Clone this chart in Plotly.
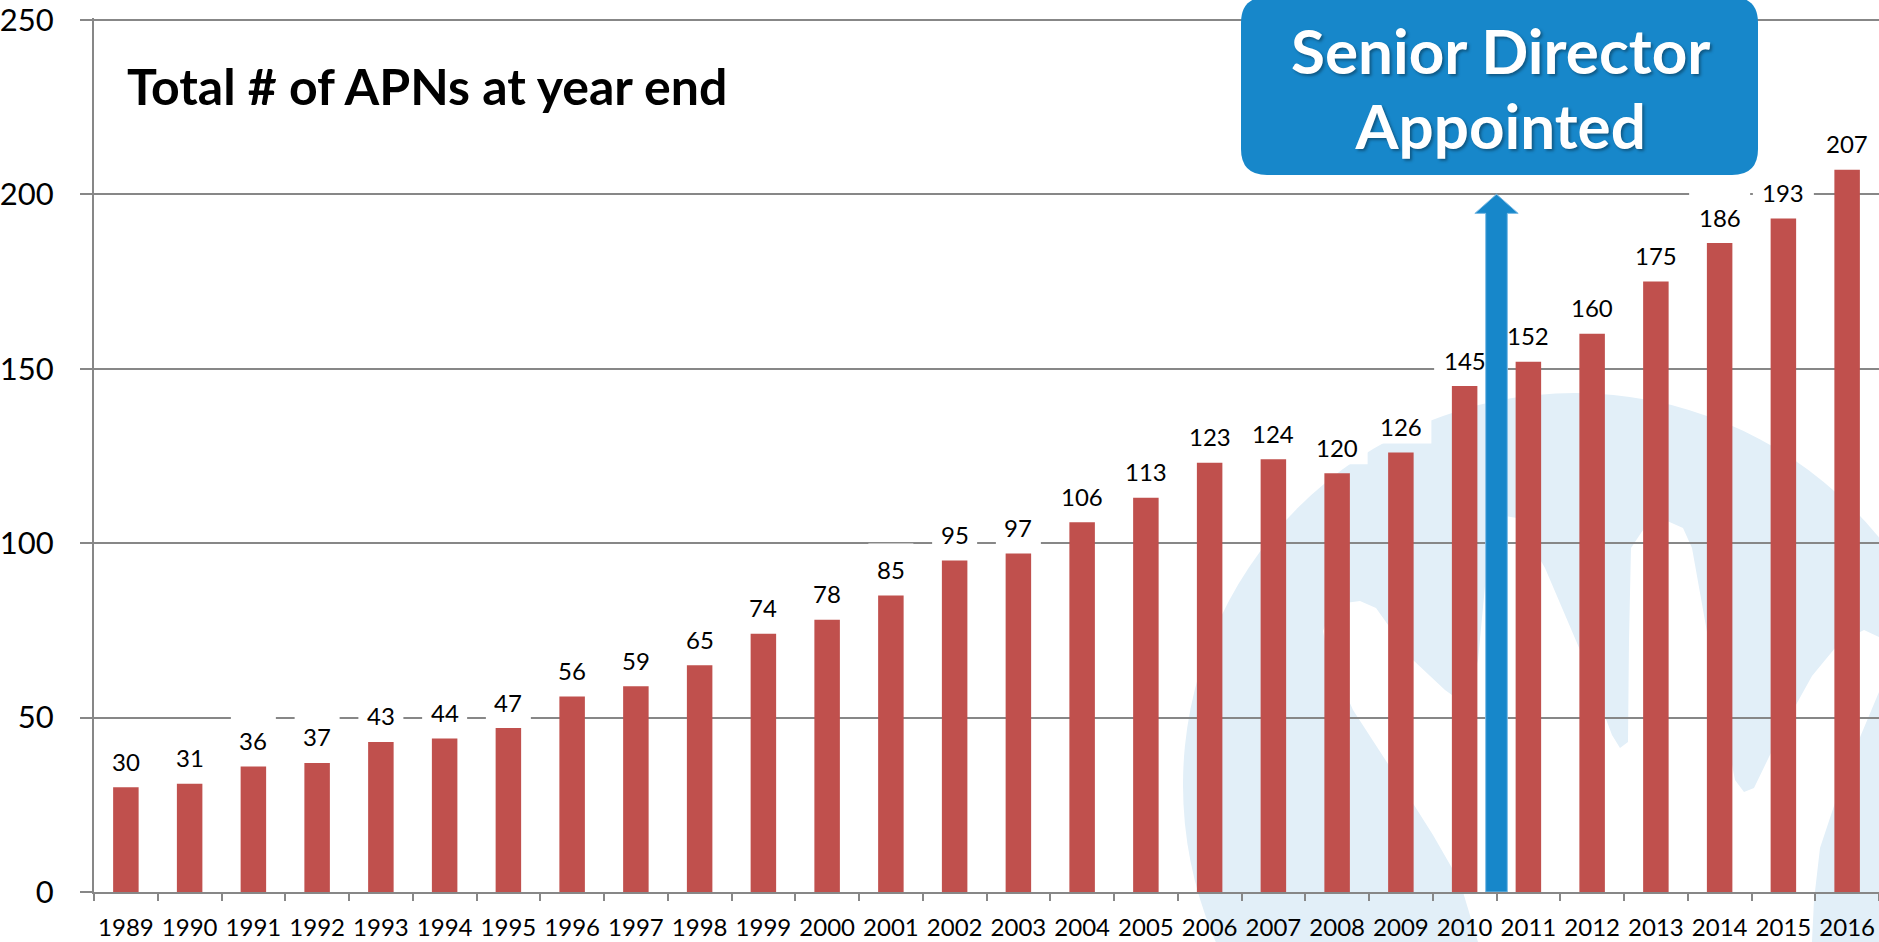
import plotly.graph_objects as go

# ---------------- data ----------------
YEARS = ["1989", "1990", "1991", "1992", "1993", "1994", "1995", "1996", "1997", "1998",
         "1999", "2000", "2001", "2002", "2003", "2004", "2005", "2006", "2007", "2008",
         "2009", "2010", "2011", "2012", "2013", "2014", "2015", "2016"]
APNS = [30, 31, 36, 37, 43, 44, 47, 56, 59, 65, 74, 78, 85, 95, 97, 106, 113, 123, 124, 120,
        126, 145, 152, 160, 175, 186, 193, 207]
Y_TICKS = [0, 50, 100, 150, 200, 250]
TITLE = "Total # of APNs at year end"
CALLOUT_LINES = ["Senior Director", "Appointed"]
APPOINTED_AFTER = "2010"   # arrow sits between this year and the next
ARROW_TOP = 200

# ---------------- styling ----------------
W, H = 1879, 942
ML, MR, MT, MB = 94, 0, 18, 50
PW, PH = W - ML - MR, H - MT - MB
Y_MAX = 250.5
BAR_RED = "#C0504D"
BLUE = "#1787CA"
GRID = "#878787"
WATERMARK = "#E2EFF8"
FONT = "Lato"


def pp(x, y):
    """pixel -> paper coordinates"""
    return (x - ML) / PW, (H - MB - y) / PH


def path_from_px(points):
    s = ""
    for i, (x, y) in enumerate(points):
        px, py = pp(x, y)
        s += ("M" if i == 0 else "L") + f"{px:.5f},{py:.5f} "
    return s + "Z"


def rounded_box_px(x0, y0, x1, y1, r):
    def P(x, y):
        a, b = pp(x, y)
        return f"{a:.5f},{b:.5f}"
    return (f"M{P(x0 + r, y0)} L{P(x1 - r, y0)} Q{P(x1, y0)} {P(x1, y0 + r)} "
            f"L{P(x1, y1 - r)} Q{P(x1, y1)} {P(x1 - r, y1)} L{P(x0 + r, y1)} "
            f"Q{P(x0, y1)} {P(x0, y1 - r)} L{P(x0, y0 + r)} Q{P(x0, y0)} {P(x0 + r, y0)} Z")


fig = go.Figure()
fig.add_trace(go.Bar(x=YEARS, y=APNS, width=0.4, marker_color=BAR_RED,
                     marker_line_width=0, hoverinfo="x+y"))

shapes = []
# watermark logo (decorative)
cx, cy, r = 1575, 785, 392
ax0, ay0 = pp(cx - r, cy + r)
ax1, ay1 = pp(cx + r, cy - r)
shapes.append(dict(type="circle", xref="paper", yref="paper", x0=ax0, y0=ay0, x1=ax1, y1=ay1,
                   fillcolor=WATERMARK, line_width=0, layer="below"))
white_pts = [(1323, 631), (1330, 613), (1345, 603), (1360, 601), (1376, 608), (1413, 660),
             (1445, 690), (1466, 705), (1478, 660), (1487, 565), (1494, 528), (1505, 516),
             (1517, 518), (1526, 535), (1545, 568), (1580, 650), (1612, 735), (1620, 748),
             (1628, 742), (1629, 640), (1631, 548), (1645, 527), (1665, 520), (1683, 528),
             (1692, 548), (1712, 660), (1735, 780), (1744, 792), (1754, 788), (1782, 730),
             (1812, 676), (1840, 642), (1864, 630), (1879, 637), (1879, 692), (1858, 742),
             (1836, 800), (1820, 848), (1814, 900), (1812, 942), (1478, 942), (1460, 882),
             (1433, 835), (1390, 767), (1353, 710), (1327, 652)]
shapes.append(dict(type="path", xref="paper", yref="paper", path=path_from_px(white_pts),
                   fillcolor="white", line_width=0, layer="below"))

# white label boxes (hide gridlines / watermark behind value labels)
for i, v in enumerate(APNS):
    w = 16 * len(str(v)) + 13
    shapes.append(dict(type="rect", xref="x", yref="y", xsizemode="pixel", ysizemode="pixel",
                       xanchor=i, yanchor=v, x0=-w / 2, x1=w / 2, y0=9, y1=52,
                       fillcolor="white", line_width=0, layer="between"))

# arrow between APPOINTED_AFTER and next year
xa = YEARS.index(APPOINTED_AFTER) + 0.5
hw, hh = 0.17, 0.34
base = ARROW_TOP - 5.5
arrow_path = (f"M{xa - hw},0 L{xa - hw},{base} L{xa - hh},{base} L{xa},{ARROW_TOP} "
              f"L{xa + hh},{base} L{xa + hw},{base} L{xa + hw},0 Z")
shapes.append(dict(type="path", xref="x", yref="y", path=arrow_path, fillcolor=BLUE,
                   line=dict(color="#7DBCE6", width=1), layer="above"))

# callout box
shapes.append(dict(type="path", xref="paper", yref="paper",
                   path=rounded_box_px(1241, -3, 1758, 175, 26),
                   fillcolor=BLUE, line_width=0, layer="above"))

annotations = []
for i, v in enumerate(APNS):
    annotations.append(dict(x=i, y=v, xref="x", yref="y", text=str(v), showarrow=False,
                            yanchor="middle", xanchor="center", yshift=26,
                            font=dict(family=FONT, size=24, color="black")))

tx, ty = pp(125, 86)
annotations.append(dict(x=tx, y=ty, xref="paper", yref="paper", text=TITLE, showarrow=False,
                        xanchor="left", yanchor="middle",
                        font=dict(family=FONT, size=50, color="black", weight="bold")))
callout_text = "<br>".join(f"<span style='font-size:62px'>{t}</span>" for t in CALLOUT_LINES)
cxp, cyp = pp(1500, 88)
annotations.append(dict(x=cxp, y=cyp, xref="paper", yref="paper", text=callout_text,
                        showarrow=False, xanchor="center", yanchor="middle", align="center",
                        font=dict(family=FONT, size=58, color="white", weight="bold",
                                  shadow="2px 2px 3px rgba(0,0,0,0.35)")))

fig.update_layout(
    width=W, height=H, autosize=False,
    margin=dict(l=ML, r=MR, t=MT, b=MB, pad=0),
    paper_bgcolor="white", plot_bgcolor="rgba(0,0,0,0)",
    showlegend=False, bargap=0.6,
    shapes=shapes, annotations=annotations,
    font=dict(family=FONT, color="black"),
    xaxis=dict(type="category", categoryorder="array", categoryarray=YEARS,
               tickson="boundaries", ticks="outside", ticklen=7, tickwidth=2, tickcolor=GRID,
               showline=True, linecolor=GRID, linewidth=2, showgrid=False,
               tickangle=0, automargin=False,
               tickfont=dict(family=FONT, size=24, color="black"), ticklabelstandoff=13),
    yaxis=dict(range=[0, Y_MAX], tickvals=Y_TICKS, showgrid=True, gridcolor=GRID, gridwidth=2,
               showline=True, linecolor=GRID, linewidth=2, zeroline=False,
               ticks="outside", ticklen=12, tickwidth=2, tickcolor=GRID, automargin=False,
               ticklabeloverflow="allow",
               tickfont=dict(family=FONT, size=31, color="black"), ticklabelstandoff=20),
)

fig.write_html("out.html")
